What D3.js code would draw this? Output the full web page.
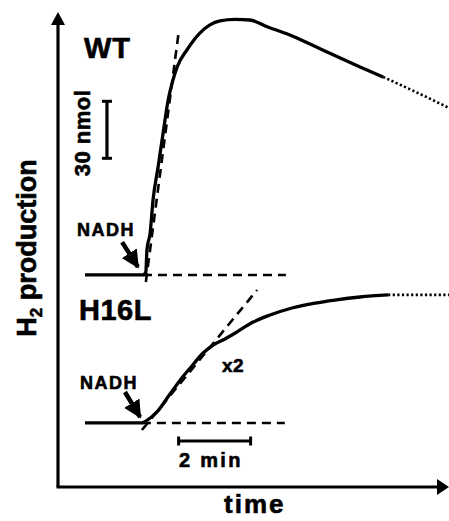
<!DOCTYPE html>
<html>
<head>
<meta charset="utf-8">
<script src="https://cdn.jsdelivr.net/npm/d3@7"></script>
<style>
  body { margin: 0; background: #fff; }
  svg { display: block; }
  text { font-family: "Liberation Sans", Arial, sans-serif; font-weight: bold; fill: #000; stroke: #000; stroke-width: 0.6px; }
</style>
</head>
<body>
<svg width="449" height="521"></svg>
<script>
var svg = d3.select('svg');

// time in min, H2 in nmol (traces are offset on the plot)
var wtTrace = [
  [0.75, 111.6], [1.5, 111.6], [2.36, 111.6], [2.44, 113.2], [2.47, 124.7],
  [2.56, 133.7], [2.64, 151.1], [2.78, 168.4], [2.92, 186.3], [3.06, 203.7],
  [3.17, 212.6], [3.31, 221.1], [3.58, 230], [3.94, 238.9], [4.22, 243.2],
  [4.5, 245.3], [4.92, 246.1], [5.33, 245.8], [5.83, 242.1], [6.44, 237.9],
  [7.06, 232.6], [7.78, 226.3], [8.39, 221.1], [9.03, 215.8]
];
var wtDotted = [[9.03, 215.8], [9.94, 207.9], [10.86, 199.5]];
var wtTangent = [[2.44, 107.9], [3.36, 240.5]];
var wtBase = [[2.36, 111.6], [6.33, 111.6]];

var h16Trace = [
  [0.75, 33.7], [1.5, 33.7], [2.33, 33.7], [2.44, 34.7], [2.75, 39.5],
  [3.11, 48.9], [3.44, 57.4], [3.72, 63.7], [4.03, 70.5], [4.31, 74.7],
  [4.64, 77.9], [4.97, 81.6], [5.42, 86.8], [5.89, 90.5], [6.5, 94.2],
  [7.14, 96.8], [7.69, 98.4], [8.39, 100], [9.17, 101.1]
];
var h16Dotted = [[9.17, 101.1], [10.86, 101.1]];
var h16Tangent = [[2.33, 30], [5.53, 103.7]];
var h16Base = [[2.33, 33.7], [6.3, 33.7]];

var nmolBar = [[1.36, 173], [1.36, 203]];
var minBar = [[3.35, 24.2], [5.35, 24.2]];
var nadhArrows = [[[1.78, 128.9], [2.22, 115.8]], [[1.86, 50], [2.28, 36.8]]];

var x = d3.scaleLinear().domain([0, 11]).range([58, 454]);
var y = d3.scaleLinear().domain([0, 250]).range([487, 12]);

var line = d3.line()
  .x(function(d) { return x(d[0]); })
  .y(function(d) { return y(d[1]); });
var smooth = d3.line()
  .x(function(d) { return x(d[0]); })
  .y(function(d) { return y(d[1]); })
  .curve(d3.curveMonotoneX);

svg.append('defs').append('marker')
  .attr('id', 'head')
  .attr('viewBox', '0 0 10 10')
  .attr('refX', 9).attr('refY', 5)
  .attr('markerWidth', 4).attr('markerHeight', 4)
  .attr('markerUnits', 'strokeWidth')
  .attr('orient', 'auto')
  .append('path').attr('d', 'M0,0 L10,5 L0,10 z').attr('fill', '#000');

// axes
svg.append('line')
  .attr('x1', x(0)).attr('y1', y(0)).attr('x2', x(0)).attr('y2', y(247))
  .attr('stroke', '#000').attr('stroke-width', 3.2);
svg.append('line')
  .attr('x1', x(0) - 1.5).attr('y1', y(0)).attr('x2', x(10.6)).attr('y2', y(0))
  .attr('stroke', '#000').attr('stroke-width', 3.2);
svg.append('path')
  .attr('d', 'M' + x(0) + ',' + y(250) + 'L' + (x(0) + 7) + ',' + (y(250) + 13) + 'L' + (x(0) - 7) + ',' + (y(250) + 13) + 'Z')
  .attr('fill', '#000');
svg.append('path')
  .attr('d', 'M' + 449 + ',' + y(0) + 'L' + 437 + ',' + (y(0) - 8) + 'L' + 437 + ',' + (y(0) + 8) + 'Z')
  .attr('fill', '#000');

// dashed guides
[wtBase, h16Base, wtTangent, h16Tangent].forEach(function(d) {
  svg.append('path').attr('d', line(d))
    .attr('fill', 'none').attr('stroke', '#000')
    .attr('stroke-width', 2.6).attr('stroke-dasharray', '9,6');
});

// traces
[wtTrace, h16Trace].forEach(function(d) {
  svg.append('path').attr('d', smooth(d))
    .attr('fill', 'none').attr('stroke', '#000')
    .attr('stroke-width', 3.3).attr('stroke-linejoin', 'round');
});
[wtDotted, h16Dotted].forEach(function(d) {
  svg.append('path').attr('d', smooth(d))
    .attr('fill', 'none').attr('stroke', '#000')
    .attr('stroke-width', 2.6).attr('stroke-dasharray', '2.2,2.4');
});

// scale bars
svg.append('path').attr('d', line(nmolBar))
  .attr('stroke', '#000').attr('stroke-width', 3.2);
nmolBar.forEach(function(d) {
  svg.append('line')
    .attr('x1', x(d[0]) - 5).attr('x2', x(d[0]) + 5)
    .attr('y1', y(d[1])).attr('y2', y(d[1]))
    .attr('stroke', '#000').attr('stroke-width', 3);
});
svg.append('path').attr('d', line(minBar))
  .attr('stroke', '#000').attr('stroke-width', 3.2);
minBar.forEach(function(d) {
  svg.append('line')
    .attr('x1', x(d[0])).attr('x2', x(d[0]))
    .attr('y1', y(d[1]) - 4.5).attr('y2', y(d[1]) + 4.5)
    .attr('stroke', '#000').attr('stroke-width', 3);
});

// NADH arrows
nadhArrows.forEach(function(d) {
  svg.append('path').attr('d', line(d))
    .attr('stroke', '#000').attr('stroke-width', 4.5)
    .attr('marker-end', 'url(#head)');
});

// labels
svg.append('text').attr('x', 84).attr('y', 58)
  .style('font-size', '29px').style('letter-spacing', '1px').text('WT');
svg.append('text').attr('x', 79).attr('y', 320)
  .style('font-size', '29px').style('letter-spacing', '0.5px').text('H16L');
svg.append('text').attr('x', 77).attr('y', 236)
  .style('font-size', '18px').style('letter-spacing', '1.5px').text('NADH');
svg.append('text').attr('x', 80).attr('y', 389)
  .style('font-size', '18px').style('letter-spacing', '1.5px').text('NADH');
svg.append('text').attr('x', 222).attr('y', 372)
  .style('font-size', '19px').style('letter-spacing', '0.5px').text('x2');
svg.append('text').attr('x', 179).attr('y', 467)
  .style('font-size', '20px').style('letter-spacing', '2.3px').text('2 min');
svg.append('text').attr('x', 224).attr('y', 513)
  .style('font-size', '26px').style('letter-spacing', '2px').text('time');
svg.append('text')
  .attr('transform', 'translate(90,133) rotate(-90)')
  .attr('text-anchor', 'middle')
  .style('font-size', '22px').style('letter-spacing', '0.5px').text('30 nmol');

var yl = svg.append('text')
  .attr('transform', 'translate(36,248) rotate(-90)')
  .attr('text-anchor', 'middle')
  .style('font-size', '27px');
yl.append('tspan').text('H');
yl.append('tspan').attr('dy', 6).style('font-size', '17px').text('2');
yl.append('tspan').attr('dy', -6).text(' production');
</script>
</body>
</html>
